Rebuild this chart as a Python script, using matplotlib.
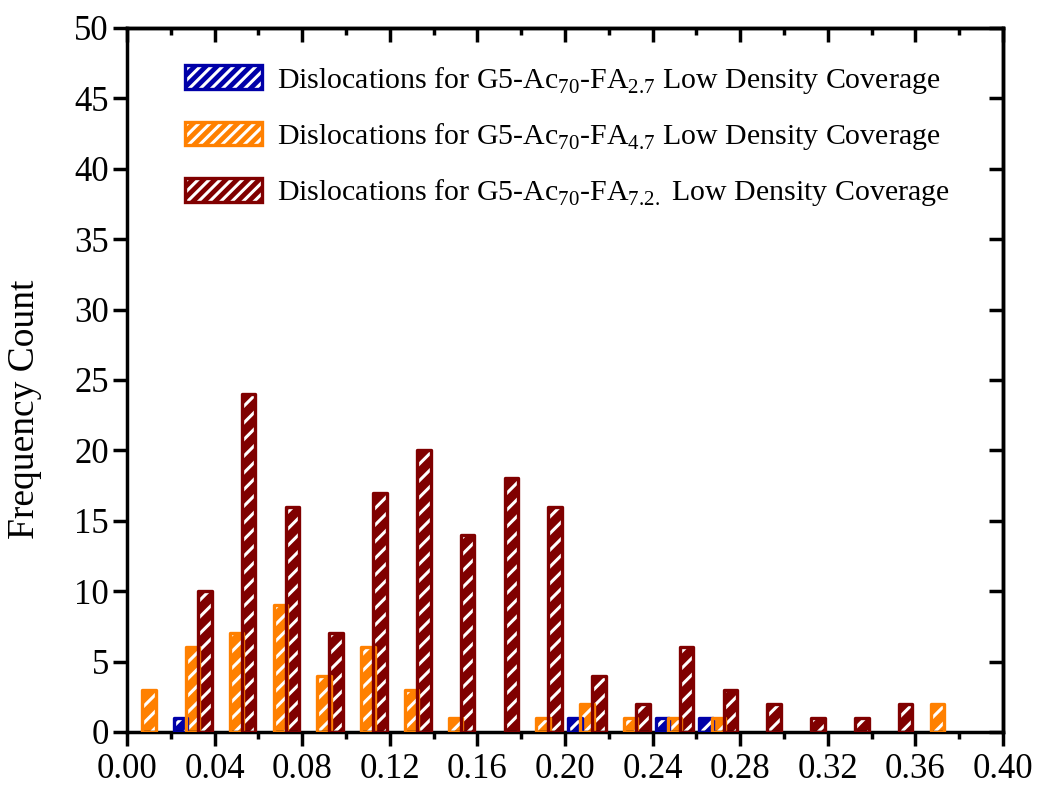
import numpy as np
import matplotlib
matplotlib.use("Agg")
from matplotlib import pyplot as plt
from matplotlib.patches import Patch
from matplotlib.ticker import MultipleLocator, FormatStrFormatter, NullFormatter
from matplotlib.legend_handler import HandlerTuple

plt.rcParams['font.family'] = ['Liberation Serif', 'DejaVu Serif']
plt.rcParams['mathtext.fontset'] = 'custom'
plt.rcParams['mathtext.rm'] = 'Liberation Serif'
plt.rcParams['hatch.linewidth'] = 2.2

# bin centres (bin width 0.02) and counts for each coverage
bins = [0.01, 0.03, 0.05, 0.07, 0.09, 0.11, 0.13, 0.15, 0.17, 0.19,
        0.21, 0.23, 0.25, 0.27, 0.29, 0.31, 0.33, 0.35, 0.37]
fa27 = [0, 1, 0, 0, 0, 0, 0, 0, 0, 0, 1, 0, 1, 1, 0, 0, 0, 0, 0]
fa47 = [3, 6, 7, 9, 4, 6, 3, 1, 0, 1, 2, 1, 1, 1, 0, 0, 0, 0, 2]
fa72 = [0, 10, 24, 16, 7, 17, 20, 14, 18, 16, 4, 2, 6, 3, 2, 1, 1, 2, 0]

labels = [r'Dislocations for G5-Ac$_{\mathrm{70}}$-FA$_{\mathrm{2.7}}$ Low Density Coverage',
          r'Dislocations for G5-Ac$_{\mathrm{70}}$-FA$_{\mathrm{4.7}}$ Low Density Coverage',
          r'Dislocations for G5-Ac$_{\mathrm{70}}$-FA$_{\mathrm{7.2.}}$ Low Density Coverage']
colors = ['#0000A8', '#FF8000', '#800000']
series = [fa27, fa47, fa72]
offsets = [-0.0055, 0.0, 0.0055]
width = 0.0062

fig = plt.figure(figsize=(10.41, 7.93), dpi=100)
ax = fig.add_axes([0.122, 0.077, 0.8415, 0.8878])

x = np.array(bins)
handles = []
for vals, col, off in zip(series, colors, offsets):
    vals = np.array(vals, dtype=float)
    m = vals > 0
    ax.bar(x[m] + off, vals[m], width=width, color=col, edgecolor='white',
           hatch='//', linewidth=0, zorder=2)
    ax.bar(x[m] + off, vals[m], width=width, fill=False, edgecolor=col,
           linewidth=2.4, joinstyle='round', zorder=3)
    handles.append((Patch(facecolor=col, edgecolor='white', hatch='///', linewidth=0),
                    Patch(fill=False, edgecolor=col, linewidth=2.4)))

ax.set_xlim(0, 0.40)
ax.set_ylim(0, 50)
ax.xaxis.set_major_locator(MultipleLocator(0.04))
ax.xaxis.set_minor_locator(MultipleLocator(0.02))
ax.xaxis.set_major_formatter(FormatStrFormatter('%.2f'))
ax.yaxis.set_major_locator(MultipleLocator(5))

for s in ax.spines.values():
    s.set_linewidth(2.5)

ax.tick_params(axis='x', which='major', direction='out', length=10, width=2.5,
               labelsize=25, pad=5)
ax.tick_params(axis='x', which='minor', direction='out', length=5, width=2.5)
ax.tick_params(axis='y', which='major', direction='out', length=10, width=2.5,
               labelsize=25, pad=3)

# inward ticks on the top and right frame
top = ax.secondary_xaxis('top')
top.xaxis.set_major_locator(MultipleLocator(0.04))
top.xaxis.set_minor_locator(MultipleLocator(0.02))
top.xaxis.set_major_formatter(NullFormatter())
top.tick_params(which='major', direction='in', length=10, width=2.5)
top.tick_params(which='minor', direction='in', length=5, width=2.5)
top.spines['top'].set_linewidth(2.5)
right = ax.secondary_yaxis('right')
right.yaxis.set_major_locator(MultipleLocator(5))
right.yaxis.set_major_formatter(NullFormatter())
right.tick_params(which='major', direction='in', length=10, width=2.5)
right.spines['right'].set_linewidth(2.5)

ax.set_ylabel('Frequency Count', fontsize=27)
ax.yaxis.set_label_coords(-0.097, 0.458)

ax.legend(handles, labels, loc='upper left', bbox_to_anchor=(0.066, 0.948),
          frameon=False, fontsize=21.5, borderpad=0, borderaxespad=0,
          handlelength=2.6, handleheight=0.85, handletextpad=0.5,
          labelspacing=0.85,
          handler_map={tuple: HandlerTuple(ndivide=1)})

fig.savefig('out.png', dpi=100)
